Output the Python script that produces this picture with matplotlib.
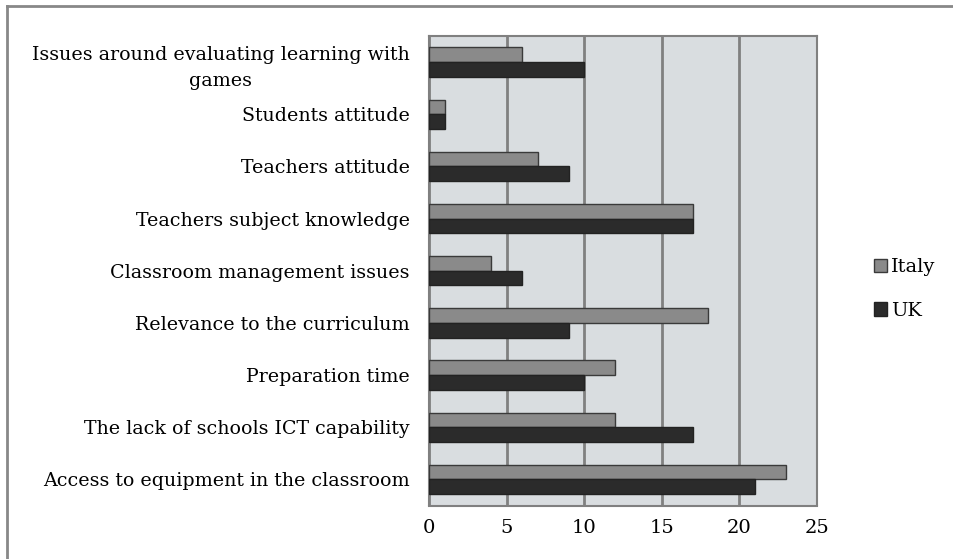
import matplotlib
matplotlib.use("Agg")
import matplotlib.pyplot as plt
from matplotlib.lines import Line2D
from matplotlib.patches import Patch
import numpy as np

categories = [
    "Access to equipment in the classroom",
    "The lack of schools ICT capability",
    "Preparation time",
    "Relevance to the curriculum",
    "Classroom management issues",
    "Teachers subject knowledge",
    "Teachers attitude",
    "Students attitude",
    "Issues around evaluating learning with\ngames",
]
italy = [23, 12, 12, 18, 4, 17, 7, 1, 6]
uk = [21, 17, 10, 9, 6, 17, 9, 1, 10]
xticks = [0, 5, 10, 15, 20, 25]

plt.rcParams['font.family'] = ['DejaVu Serif']

W, H = 954, 559
fig = plt.figure(figsize=(W / 100, H / 100), dpi=100)
ax = fig.add_axes([429 / W, 1 - 505.5 / H, (817 - 429) / W, (505.5 - 36) / H])

y = np.arange(len(categories))
h = 0.28
ax.barh(y + h / 2, italy, height=h, color="#8a8a8a", edgecolor="#3a3a3a", linewidth=1.0, label="Italy", zorder=3)
ax.barh(y - h / 2, uk, height=h, color="#2b2b2b", edgecolor="#222222", linewidth=1.0, label="UK", zorder=3)

ax.set_facecolor("#d9dde0")
ax.set_xlim(0, 25)
ax.set_ylim(-0.5, len(categories) - 0.5)
ax.set_xticks(xticks)
ax.set_xticklabels([str(t) for t in xticks], fontsize=14)
ax.set_yticks(y)
ax.set_yticklabels(categories, fontsize=13.7)
for lab in ax.get_yticklabels():
    lab.set_multialignment("center")
    lab.set_linespacing(1.6)
ax.tick_params(axis="both", length=0)
ax.tick_params(axis="x", pad=10)
ax.tick_params(axis="y", pad=14)
ax.xaxis.grid(True, color="#808080", linewidth=2, zorder=1)
ax.set_axisbelow(True)
for s in ax.spines.values():
    s.set_color("#808080")
    s.set_linewidth(1.5)

handles = [Patch(facecolor="#8a8a8a", edgecolor="#3a3a3a", label="Italy"),
           Patch(facecolor="#2b2b2b", edgecolor="#222222", label="UK")]
fig.legend(handles=handles, loc="center left", bbox_to_anchor=(866 / W, 1 - 289 / H),
           frameon=False, fontsize=14, handlelength=0.7, handleheight=0.7,
           handletextpad=0.2, labelspacing=1.3, borderaxespad=0)

# outer border
fig.add_artist(Line2D([7 / W, 7 / W], [0, 1 - 6 / H], color="#888888", linewidth=2, transform=fig.transFigure))
fig.add_artist(Line2D([7 / W, 1], [1 - 6 / H, 1 - 6 / H], color="#888888", linewidth=2, transform=fig.transFigure))

fig.savefig("out.png", dpi=100, facecolor="white")
